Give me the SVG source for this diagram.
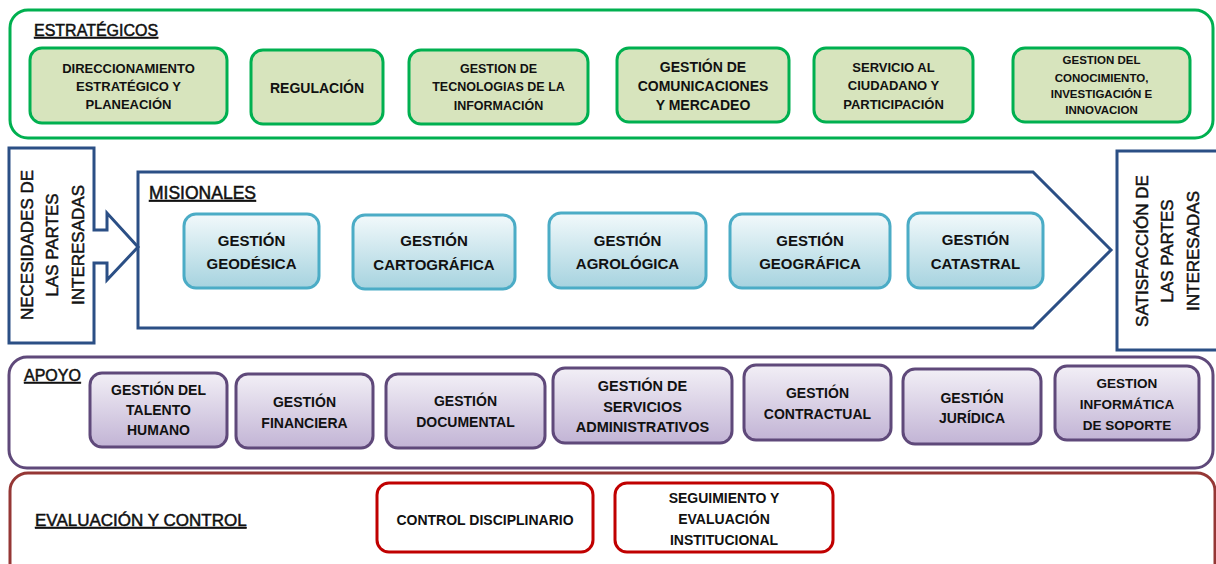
<svg xmlns="http://www.w3.org/2000/svg" width="1216" height="564" viewBox="0 0 1216 564">
<defs>
<linearGradient id="gBlue" x1="0" y1="0" x2="0" y2="1">
<stop offset="0" stop-color="#F2F9FB"/><stop offset="1" stop-color="#A6D3DF"/>
</linearGradient>
<linearGradient id="gPurple" x1="0" y1="0" x2="0" y2="1">
<stop offset="0" stop-color="#F2EFF6"/><stop offset="1" stop-color="#C2B4D5"/>
</linearGradient>
<style>
text{font-family:"Liberation Sans",Arial,sans-serif;fill:#111;}
.t{font-weight:bold;text-anchor:middle;dominant-baseline:central;}
.h{text-decoration:underline;stroke:#111;stroke-width:0.5;}
.cont{fill:#fff;stroke-width:3;}
.green{fill:#D7E4BD;stroke:#00B050;stroke-width:3;}
.blue{fill:url(#gBlue);stroke:#4BACC6;stroke-width:3;}
.purple{fill:url(#gPurple);stroke:#5F497A;stroke-width:3;}
.red{fill:#fff;stroke:#C00000;stroke-width:3;}
.side{fill:#fff;stroke:#2B4F85;stroke-width:3;}
.rot{font-size:17px;text-anchor:middle;dominant-baseline:central;stroke:#111;stroke-width:0.5;}
</style>
</defs>

<!-- Containers -->
<g id="estrategicos">
<rect class="cont" x="10" y="10" width="1203" height="128" rx="18" stroke="#00B050"/>
<text class="h" x="34" y="36" font-size="16">ESTRATÉGICOS</text>
</g>
<g id="misionales">
<path class="side" d="M138,172 H1033 L1111,250 L1033,328 H138 Z"/>
<text class="h" x="149" y="199" font-size="17.5">MISIONALES</text>
</g>
<g id="apoyo">
<rect class="cont" x="9" y="357" width="1204" height="111" rx="18" stroke="#5F497A"/>
<text class="h" x="24" y="381" font-size="16">APOYO</text>
</g>
<g id="evaluacion">
<rect class="cont" x="10" y="473" width="1205" height="110" rx="18" stroke="#953735"/>
<text class="h" x="35" y="526" font-size="17">EVALUACIÓN Y CONTROL</text>
</g>

<!-- Side boxes -->
<g id="necesidades">
<path class="side" d="M9,148 H94 V230 H107 V213 L138,247 L107,280 V263 H94 V343 H9 Z"/>
<text class="rot" transform="rotate(-90 27 245)" x="27" y="245">NECESIDADES DE</text>
<text class="rot" transform="rotate(-90 52 245)" x="52" y="245">LAS PARTES</text>
<text class="rot" transform="rotate(-90 78 245)" x="78" y="245">INTERESADAS</text>
</g>
<g id="satisfaccion">
<rect class="side" x="1117" y="151" width="110" height="199"/>
<text class="rot" transform="rotate(-90 1142 251)" x="1142" y="251">SATISFACCIÓN DE</text>
<text class="rot" transform="rotate(-90 1167 251)" x="1167" y="251">LAS PARTES</text>
<text class="rot" transform="rotate(-90 1193 251)" x="1193" y="251">INTERESADAS</text>
</g>

<!-- Estratégicos nodes -->
<g id="e1"><rect class="green" x="30" y="48" width="197" height="75" rx="12"/>
<text class="t" font-size="13" x="128.5" y="68">DIRECCIONAMIENTO</text>
<text class="t" font-size="13" x="128.5" y="86">ESTRATÉGICO Y</text>
<text class="t" font-size="13" x="128.5" y="104">PLANEACIÓN</text></g>
<g id="e2"><rect class="green" x="251" y="50" width="132" height="74" rx="12"/>
<text class="t" font-size="14" x="317" y="88">REGULACIÓN</text></g>
<g id="e3"><rect class="green" x="409" y="50" width="179" height="74" rx="12"/>
<text class="t" font-size="12.5" x="498.5" y="69">GESTION DE</text>
<text class="t" font-size="12.5" x="498.5" y="87">TECNOLOGIAS DE LA</text>
<text class="t" font-size="12.5" x="498.5" y="106">INFORMACIÓN</text></g>
<g id="e4"><rect class="green" x="617" y="48" width="172" height="74" rx="12"/>
<text class="t" font-size="14" x="703" y="67">GESTIÓN DE</text>
<text class="t" font-size="14" x="703" y="86">COMUNICACIONES</text>
<text class="t" font-size="14" x="703" y="105">Y MERCADEO</text></g>
<g id="e5"><rect class="green" x="814" y="48" width="159" height="74" rx="12"/>
<text class="t" font-size="13" x="893.5" y="67">SERVICIO AL</text>
<text class="t" font-size="13" x="893.5" y="85">CIUDADANO Y</text>
<text class="t" font-size="13" x="893.5" y="104">PARTICIPACIÓN</text></g>
<g id="e6"><rect class="green" x="1013" y="48" width="177" height="74" rx="12"/>
<text class="t" font-size="11.5" x="1101.5" y="60">GESTION DEL</text>
<text class="t" font-size="11.5" x="1101.5" y="78">CONOCIMIENTO,</text>
<text class="t" font-size="11.5" x="1101.5" y="94">INVESTIGACIÓN  E</text>
<text class="t" font-size="11.5" x="1101.5" y="110">INNOVACION</text></g>

<!-- Misionales nodes -->
<g id="m1"><rect class="blue" x="184" y="214" width="135" height="74" rx="12"/>
<text class="t" font-size="15" x="251.5" y="240">GESTIÓN</text>
<text class="t" font-size="15" x="251.5" y="263">GEODÉSICA</text></g>
<g id="m2"><rect class="blue" x="353" y="215" width="162" height="74" rx="12"/>
<text class="t" font-size="15" x="434" y="240">GESTIÓN</text>
<text class="t" font-size="15" x="434" y="264">CARTOGRÁFICA</text></g>
<g id="m3"><rect class="blue" x="549" y="213" width="157" height="75" rx="12"/>
<text class="t" font-size="15" x="627.5" y="240">GESTIÓN</text>
<text class="t" font-size="15" x="627.5" y="263">AGROLÓGICA</text></g>
<g id="m4"><rect class="blue" x="730" y="214" width="160" height="74" rx="12"/>
<text class="t" font-size="15" x="810" y="240">GESTIÓN</text>
<text class="t" font-size="15" x="810" y="263">GEOGRÁFICA</text></g>
<g id="m5"><rect class="blue" x="908" y="213" width="135" height="75" rx="12"/>
<text class="t" font-size="15" x="975.5" y="239">GESTIÓN</text>
<text class="t" font-size="15" x="975.5" y="263">CATASTRAL</text></g>

<!-- Apoyo nodes -->
<g id="a1"><rect class="purple" x="90" y="373" width="137" height="74" rx="12"/>
<text class="t" font-size="14" x="158.5" y="390">GESTIÓN DEL</text>
<text class="t" font-size="14" x="158.5" y="410">TALENTO</text>
<text class="t" font-size="14" x="158.5" y="430">HUMANO</text></g>
<g id="a2"><rect class="purple" x="236" y="374" width="137" height="74" rx="12"/>
<text class="t" font-size="14" x="304.5" y="402">GESTIÓN</text>
<text class="t" font-size="14" x="304.5" y="423">FINANCIERA</text></g>
<g id="a3"><rect class="purple" x="386" y="374" width="159" height="74" rx="12"/>
<text class="t" font-size="14" x="465.5" y="401">GESTIÓN</text>
<text class="t" font-size="14" x="465.5" y="422">DOCUMENTAL</text></g>
<g id="a4"><rect class="purple" x="553" y="368" width="179" height="75" rx="12"/>
<text class="t" font-size="14.5" x="642.5" y="386">GESTIÓN DE</text>
<text class="t" font-size="14.5" x="642.5" y="407">SERVICIOS</text>
<text class="t" font-size="14.5" x="642.5" y="427">ADMINISTRATIVOS</text></g>
<g id="a5"><rect class="purple" x="744" y="365" width="147" height="75" rx="12"/>
<text class="t" font-size="14" x="817.5" y="393">GESTIÓN</text>
<text class="t" font-size="14" x="817.5" y="414">CONTRACTUAL</text></g>
<g id="a6"><rect class="purple" x="903" y="369" width="138" height="75" rx="12"/>
<text class="t" font-size="14" x="972" y="398">GESTIÓN</text>
<text class="t" font-size="14" x="972" y="418">JURÍDICA</text></g>
<g id="a7"><rect class="purple" x="1055" y="366" width="144" height="74" rx="12"/>
<text class="t" font-size="13.5" x="1127" y="383">GESTION</text>
<text class="t" font-size="13.5" x="1127" y="404">INFORMÁTICA</text>
<text class="t" font-size="13.5" x="1127" y="425">DE SOPORTE</text></g>

<!-- Evaluación nodes -->
<g id="c1"><rect class="red" x="377" y="483" width="216" height="69" rx="12"/>
<text class="t" font-size="14" x="485" y="520">CONTROL DISCIPLINARIO</text></g>
<g id="c2"><rect class="red" x="615" y="483" width="218" height="69" rx="12"/>
<text class="t" font-size="14" x="724" y="498">SEGUIMIENTO Y</text>
<text class="t" font-size="14" x="724" y="519">EVALUACIÓN</text>
<text class="t" font-size="14" x="724" y="540">INSTITUCIONAL</text></g>

<g id="connectors"></g>
</svg>
